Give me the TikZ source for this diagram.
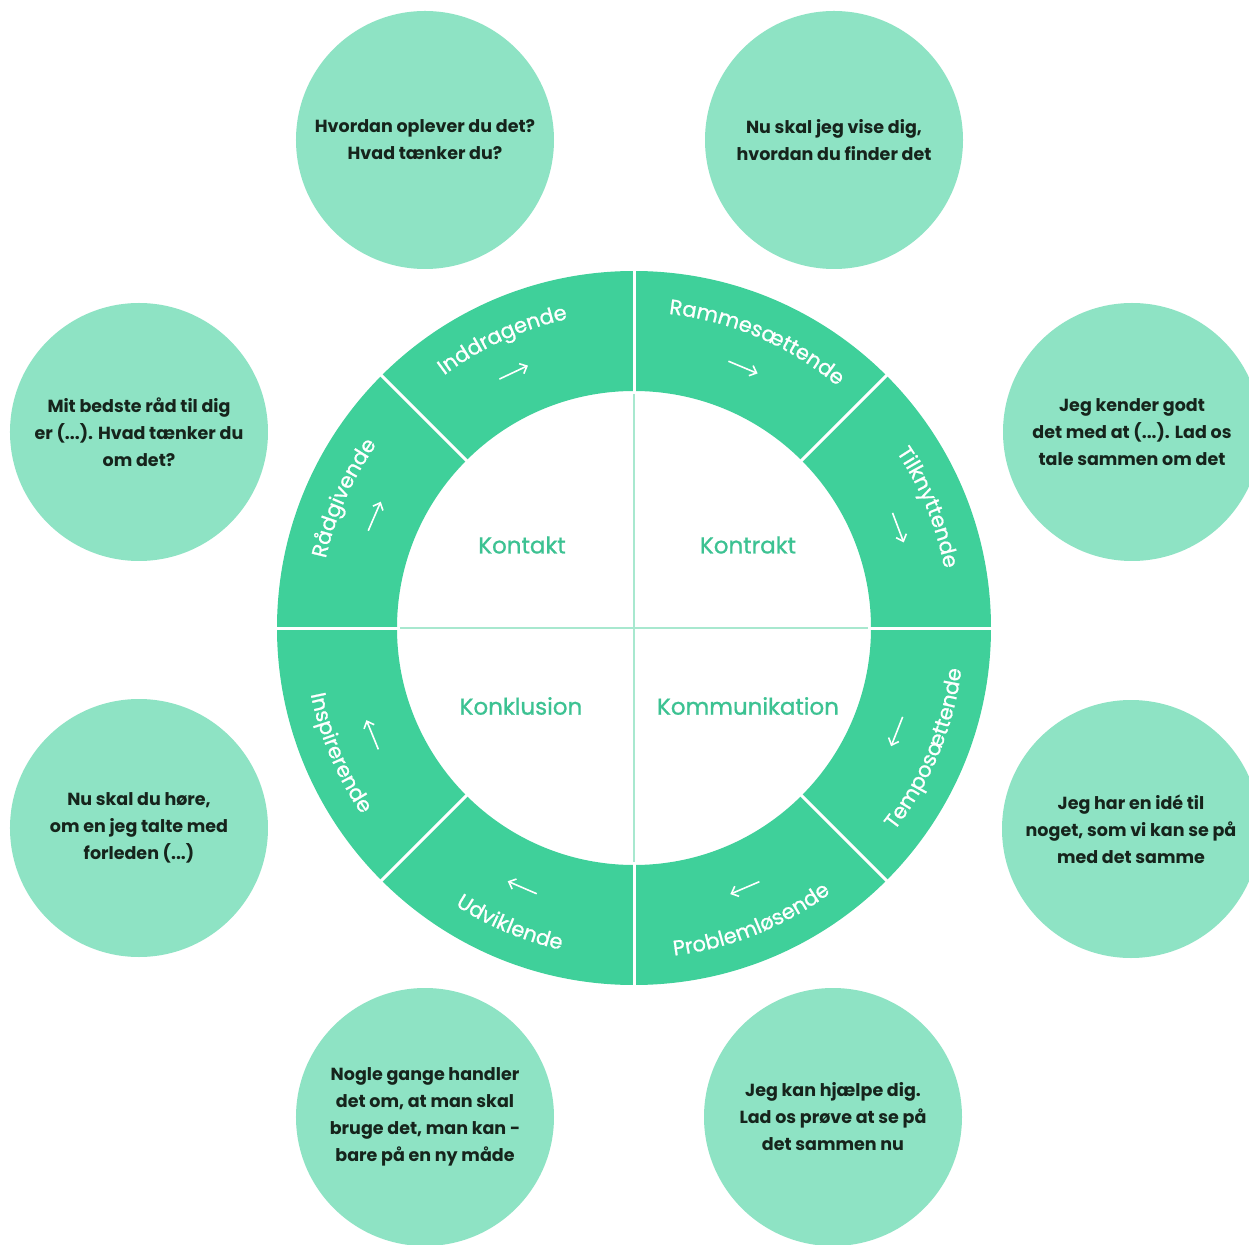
\documentclass[tikz,border=0pt]{standalone}
\usepackage{fontspec}
\setmainfont{Poppins}
\newfontfamily\semifam{Poppins}[FakeBold=0.9]
\usetikzlibrary{decorations.text,arrows.meta}
\definecolor{ringc}{HTML}{3FD09A}
\definecolor{bubc}{HTML}{8EE3C4}
\definecolor{quadtxt}{HTML}{3CC292}
\definecolor{divc}{HTML}{A8E8CF}
\definecolor{bubtxt}{HTML}{16241C}
\newcommand\ringfont{\semifam\fontsize{21}{21}\selectfont}
\begin{document}
\begin{tikzpicture}[x=1pt,y=1pt,
  bub/.style={circle, fill=bubc, minimum size=258pt, inner sep=0pt, align=center, text=bubtxt, font=\fontsize{17.5}{27}\selectfont\bfseries},
  quad/.style={text=quadtxt, font=\semifam\fontsize{23}{23}\selectfont},
  sep/.style={white, line width=3pt},
  qline/.style={divc, line width=2pt},
  flow/.style={white, line width=1.6pt, -{Straight Barb[length=6pt,width=11pt]}},
  ringlab/.style={decorate, decoration={text along path, text align=center, text color=white, text={|\ringfont|#1}}},
]
\useasboundingbox (-634,-616) rectangle (615,628);
\fill[white] (-634,-616) rectangle (615,628);

% outer bubbles
\node[bub] (c1) at (-209,488) {Hvordan oplever du det?\\Hvad tænker du?};
\node[bub] (c2) at (200,488) {Nu skal jeg vise dig,\\hvordan du finder det};
\node[bub] (c3) at (498,196) {Jeg kender godt\\det med at (...). Lad os\\tale sammen om det};
\node[bub] (c4) at (497,-201) {Jeg har en idé til\\noget, som vi kan se på\\med det samme};
\node[bub] (c5) at (199,-489) {Jeg kan hjælpe dig.\\Lad os prøve at se på\\det sammen nu};
\node[bub] (c6) at (-209,-489) {Nogle gange handler\\det om, at man skal\\bruge det, man kan -\\bare på en ny måde};
\node[bub] (c7) at (-495,-200) {Nu skal du høre,\\om en jeg talte med\\forleden (...)};
\node[bub] (c8) at (-495,196) {Mit bedste råd til dig\\er (...). Hvad tænker du\\om det?};

% ring
\fill[ringc, even odd rule] (0,0) circle[radius=357] circle[radius=237];
\foreach \a in {0,90,180,270} \draw[qline] (0,0) -- (\a:236);
\foreach \a in {0,45,...,315} \draw[sep] (\a:234) -- (\a:359);

% quadrant labels
\node[quad] (q1) at (-112,83) {Kontakt};
\node[quad] (q2) at (114,83) {Kontrakt};
\node[quad] (q3) at (-113,-78) {Konklusion};
\node[quad] (q4) at (114,-78) {Kommunikation};

% ring labels (top half, clockwise)
\path[ringlab=Inddragende] (139.5:316) arc[start angle=139.5, end angle=89.5, radius=316];
\path[ringlab=Rammesættende] (91.8:316) arc[start angle=91.8, end angle=41.8, radius=316];
\path[ringlab=Tilknyttende] (47.3:316) arc[start angle=47.3, end angle=-2.7, radius=316];
\path[ringlab=Rådgivende] (180.9:316) arc[start angle=180.9, end angle=130.9, radius=316];
% ring labels (bottom half, counter-clockwise)
\path[ringlab=Temposættende] (-47.5:330) arc[start angle=-47.5, end angle=2.5, radius=330];
\path[ringlab=Problemløsende] (-93.2:330) arc[start angle=-93.2, end angle=-43.2, radius=330];
\path[ringlab=Udviklende] (-137.8:330) arc[start angle=-137.8, end angle=-87.8, radius=330];
\path[ringlab=Inspirerende] (-182:330) arc[start angle=-182, end angle=-132, radius=330];

% flow arrows (clockwise)
\foreach \m in {115.2,67.3,20.8,-21.5,-66.9,-113.3,-157.8,156.7}
  \draw[flow] (\m+3.2:283) -- (\m-3.2:283);
\end{tikzpicture}
\end{document}
